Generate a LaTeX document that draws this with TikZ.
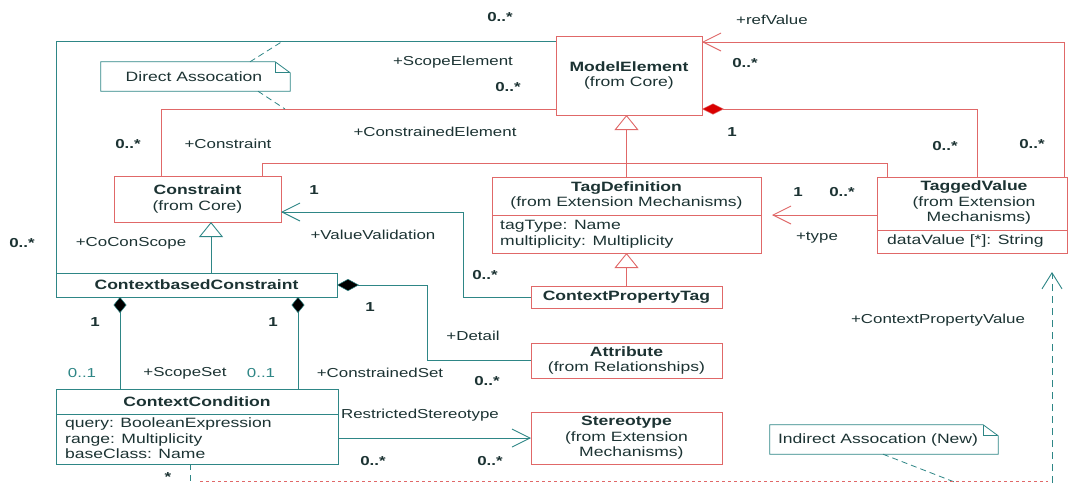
\documentclass[tikz,border=0pt]{standalone}
\usepackage{fontspec}
\setmainfont{Liberation Sans}[FakeStretch=1.3]
\usetikzlibrary{arrows.meta}
\definecolor{redc}{HTML}{E06868}
\definecolor{tealc}{HTML}{2E8686}
\definecolor{txt}{HTML}{1C3333}
\begin{document}
\begin{tikzpicture}[x=1pt,y=-1pt,
  font=\fontsize{13.5}{15.5}\selectfont, text=txt,
  cls/.style={draw=redc, line width=0.9pt, fill=white, inner sep=0pt, outer sep=0pt, align=center},
  clsT/.style={cls, draw=tealc},
  lbl/.style={inner sep=0pt, font=\fontsize{13}{15}\selectfont},
  mult/.style={inner sep=0pt, font=\fontsize{13}{15}\selectfont\bfseries},
  multl/.style={inner sep=0pt, font=\fontsize{13}{15}\selectfont, text=tealc},
  attrtxt/.style={inner sep=0pt, anchor=west, align=left},
  hdr/.style={inner sep=0pt, align=center},
  rline/.style={draw=redc, line width=0.9pt},
  tline/.style={draw=tealc, line width=0.9pt},
  notel/.style={draw=tealc, line width=0.8pt},
  dashl/.style={draw=tealc, line width=0.8pt, dash pattern=on 7pt off 5pt},
  openarr/.style={-{Straight Barb[length=18pt,width=18pt,line width=0.9pt]}},
  genarr/.style={-{Triangle[length=15pt,width=24pt,fill=white,line width=0.9pt]}},
  compblack/.style={{Diamond[length=16pt,width=13pt,fill=black,line width=0.5pt]}-},
  compblackw/.style={{Diamond[length=22pt,width=12pt,fill=black,line width=0.5pt]}-},
  compred/.style={{Diamond[length=22pt,width=11pt,fill=red!85!black,line width=0.5pt]}-}
]
\useasboundingbox (0,0) rectangle (1068,483);
\fill[white] (0,0) rectangle (1068,483);

% ---------------- bend coordinates ----------------
\coordinate (c1) at (56,41);
\coordinate (c2) at (161,109);
\coordinate (c3) at (262,163);
\coordinate (c3b) at (887,163);
\coordinate (c4) at (1064,42);
\coordinate (c5) at (977,109);
\coordinate (c8) at (211,250);
\coordinate (c9) at (463,212);
\coordinate (c10) at (427,285);
\coordinate (c11) at (120,340);
\coordinate (c12) at (298,340);
\coordinate (c15) at (1052,483);

% ---------------- connectors (drawn first, boxes on top) ----------------
\draw[tline] (c1 |- 0,273) -- (c1) -- (556,41);
\draw[rline] (c2 |- 0,176) -- (c2) -- (556,109);
\draw[rline] (c3 |- 0,176) -- (c3) -- (c3b) -- (c3b |- 0,177);

% ---------------- classes ----------------
\node[cls, minimum width=146pt, minimum height=79pt] (me) at (629,75.5) {\textbf{ModelElement}\\(from Core)};
\node[cls, minimum width=167pt, minimum height=46pt] (con) at (197.5,199) {\textbf{Constraint}\\(from Core)};

\node[cls, minimum width=269pt, minimum height=76pt] (td) at (626.5,215) {};
\node[hdr] (tdh) at (626.5,195.5) {\textbf{TagDefinition}\\(from Extension Mechanisms)};
\draw[rline] (td.west) -- (td.east);
\node[attrtxt] (tda) at (500,234) {tagType: Name\\multiplicity: Multiplicity};

\node[cls, minimum width=190pt, minimum height=76pt] (tv) at (972,215) {};
\node[hdr] (tvh) at (974,202.5) {\textbf{TaggedValue}\\(from Extension\\\ \ Mechanisms)};
\draw[rline] (tv.west |- 0,230) -- (tv.east |- 0,230);
\node[attrtxt] (tva) at (887,241) {dataValue [*]: String};

\node[clsT, minimum width=281pt, minimum height=24pt] (cbc) at (196.5,285) {\textbf{ContextbasedConstraint}};
\node[cls, minimum width=191pt, minimum height=22pt] (cpt) at (626.5,297) {\textbf{ContextPropertyTag}};
\node[cls, minimum width=191pt, minimum height=35pt] (attr) at (626.5,360.5) {\textbf{Attribute}\\(from Relationships)};

\node[clsT, minimum width=282pt, minimum height=75pt] (cc) at (197,426.5) {};
\node[hdr] (cch) at (197,401.5) {\textbf{ContextCondition}};
\draw[tline] (cc.west |- 0,414) -- (cc.east |- 0,414);
\node[attrtxt] (cca) at (65,438.5) {query: BooleanExpression\\range: Multiplicity\\baseClass: Name};

\node[cls, minimum width=191pt, minimum height=52pt] (st) at (626.5,438) {\textbf{Stereotype}\\(from Extension\\\ \ Mechanisms)};

% ---------------- notes ----------------
\node[inner sep=0pt, minimum width=189pt, minimum height=29pt] (dn) at (195.5,76.5) {};
\draw[notel, fill=white] (dn.north west) -- ([xshift=-15pt]dn.north east) -- ([yshift=-11pt]dn.north east) -- (dn.south east) -- (dn.south west) -- cycle;
\draw[notel] ([xshift=-15pt]dn.north east) -- ([xshift=-15pt,yshift=-11pt]dn.north east) -- ([yshift=-11pt]dn.north east);
\node[inner sep=0pt] (dnt) at (194,76.5) {Direct Assocation};

\node[inner sep=0pt, minimum width=228pt, minimum height=29pt] (inn) at (884,439.5) {};
\draw[notel, fill=white] (inn.north west) -- ([xshift=-15pt]inn.north east) -- ([yshift=-11pt]inn.north east) -- (inn.south east) -- (inn.south west) -- cycle;
\draw[notel] ([xshift=-15pt]inn.north east) -- ([xshift=-15pt,yshift=-11pt]inn.north east) -- ([yshift=-11pt]inn.north east);
\node[inner sep=0pt] (innt) at (878,439.5) {Indirect Assocation (New)};

\draw[dashl, dash pattern=on 6pt off 4pt] (dn.north -| 250,0) -- (283,41);
\draw[dashl, dash pattern=on 6pt off 4pt] (dn.south -| 258,0) -- (285,109);
\draw[dashl, dash pattern=on 6pt off 4pt] (inn.south -| 883,0) -- (957,483);

% ---------------- remaining connectors ----------------
\draw[rline, openarr] (tv.north -| c4) -- (c4) -- (me.east |- c4);
\draw[rline, compred] (me.east |- c5) -- (c5) -- (tv.north -| c5);
\draw[rline, genarr] (td.north) -- (td.north |- me.south);
\draw[rline, genarr] (cpt.north) -- (td.south);
\draw[tline, genarr] (cbc.north -| c8) -- (con.south -| c8);
\draw[tline, openarr] (cpt.west) -- (c9 |- cpt.west) -- (c9) -- (con.east |- c9);
\draw[tline, compblackw] (cbc.east) -- (c10) -- (c10 |- attr.west) -- (attr.west);
\draw[tline, compblack] (cbc.south -| c11) -- (cc.north -| c11);
\draw[tline, compblack] (cbc.south -| c12) -- (cc.north -| c12);
\draw[tline, openarr] (cc.east |- st.west) -- (st.west);
\draw[rline, openarr, shorten >=11pt] (tv.west) -- (td.east);
\draw[dashl, -{Straight Barb[length=16pt,width=20pt,line width=0.9pt]}, shorten >=19pt] (c15) -- (tv.south -| c15);
\draw[dashl, dash pattern=on 6pt off 5pt] (cc.south -| 190,0) -- (190,483);
\draw[draw=redc, line width=0.6pt, dash pattern=on 3pt off 3pt] (200,481.5) -- (1048,481.5);

% ---------------- labels ----------------
\node[mult] (l1) at (500,17) {0..*};
\node[lbl] (l2) at (453,62) {+ScopeElement};
\node[mult] (l3) at (508,87) {0..*};
\node[lbl] (l4) at (435,132) {+ConstrainedElement};
\node[mult] (l5) at (128,144) {0..*};
\node[lbl] (l6) at (228,144) {+Constraint};
\node[lbl] (l7) at (772,20) {+refValue};
\node[mult] (l8) at (745,63) {0..*};
\node[mult] (l9) at (732,132) {1};
\node[mult] (l10) at (945,146) {0..*};
\node[mult] (l11) at (1032,144) {0..*};
\node[mult] (l12) at (314,190) {1};
\node[lbl] (l13) at (373,235) {+ValueValidation};
\node[mult] (l14) at (22,243) {0..*};
\node[lbl] (l15) at (131,243) {+CoConScope};
\node[mult] (l16) at (485,275) {0..*};
\node[mult] (l17) at (798,192) {1};
\node[mult] (l18) at (842,192) {0..*};
\node[lbl] (l19) at (817,238) {+type};
\node[mult] (l20) at (370,307) {1};
\node[mult] (l21) at (95,322) {1};
\node[mult] (l22) at (273,322) {1};
\node[multl] (l23) at (82,373) {0..1};
\node[lbl] (l24) at (185,373) {+ScopeSet};
\node[multl] (l25) at (261,373) {0..1};
\node[lbl] (l26) at (380,373) {+ConstrainedSet};
\node[lbl] (l27) at (473,336) {+Detail};
\node[mult] (l28) at (487,381) {0..*};
\node[lbl] (l29) at (420,415) {RestrictedStereotype};
\node[mult] (l30) at (373,461) {0..*};
\node[mult] (l31) at (490,461) {0..*};
\node[lbl] (l32) at (938,320) {+ContextPropertyValue};
\node[mult] (l33) at (168,477) {*};
\end{tikzpicture}
\end{document}
